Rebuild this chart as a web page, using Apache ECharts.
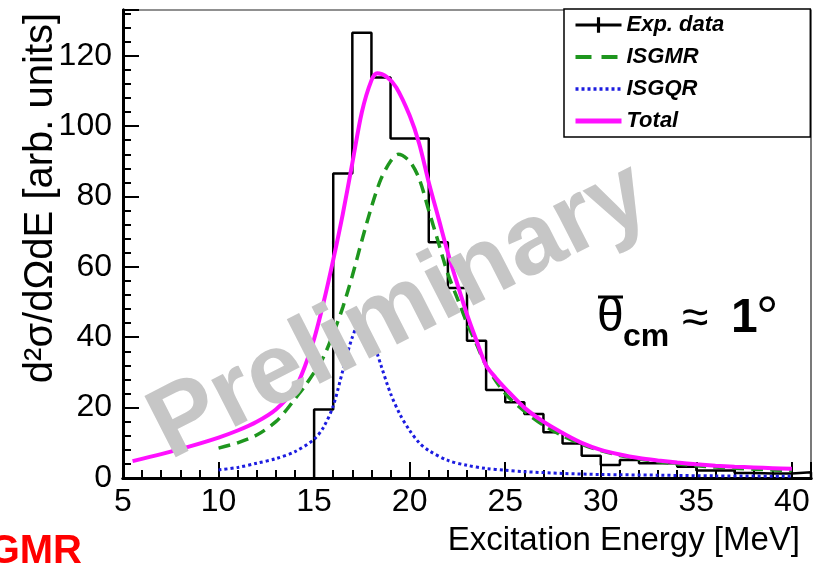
<!DOCTYPE html>
<html>
<head>
<meta charset="utf-8">
<script src="https://cdn.jsdelivr.net/npm/echarts@6/dist/echarts.min.js"></script>
<style>
  html, body { margin: 0; padding: 0; background: #fff; }
  #chart { width: 821px; height: 569px; }
</style>
</head>
<body>
<div id="chart"></div>
<script>
// measured spectrum, 1 MeV bins (lower edges)
const expBinLow = [15, 16, 17, 18, 19, 20, 21, 22, 23, 24, 25, 26, 27, 28, 29, 30, 31, 32, 33, 34, 35, 36, 37, 38, 39, 40];
const expCounts = [19.5, 86.5, 126.5, 113.8, 96.5, 96.5, 67, 54, 39, 25, 21.5, 18.2, 13, 9.8, 6.3, 3.7, 5.1, 4.2, 4.2, 3.2, 2.1, 2.1, 1.4, 1.3, 1.3, 1.6];
const binWidth = 1;

// fitted components
const isgmrE = [10, 11, 12, 13, 13.5, 14, 14.5, 15, 15.5, 16, 16.5, 17, 17.5, 18, 18.5, 19, 19.4, 20, 20.5, 21, 21.5, 22, 22.5, 23, 23.5, 24, 25, 26, 27, 28, 29, 30, 31, 32, 33, 34, 35, 36, 37, 38, 39, 40];
const isgmrY = [8.5, 10, 12.2, 16, 19, 22.5, 26, 30, 34.5, 41, 48.5, 57.5, 67.5, 77, 85, 90, 92, 90, 85, 76, 67, 58, 51, 44, 38, 32, 24, 19, 15, 12, 9.6, 7.8, 6.4, 5.4, 4.6, 4, 3.5, 3.1, 2.8, 2.5, 2.3, 2.1];

const isgqrE = [10, 11, 12, 13, 14, 15, 15.5, 16, 16.5, 17, 17.4, 17.8, 18.2, 18.5, 19, 19.5, 20, 20.5, 21, 22, 23, 24, 25, 26, 28, 30, 33, 36, 40];
const isgqrY = [2.3, 3, 4.2, 5.5, 7.5, 11, 14.5, 20.5, 30.5, 40, 44, 42, 37, 32, 24, 18, 13.5, 10, 7.8, 5, 3.6, 2.7, 2.2, 1.8, 1.3, 1, 0.8, 0.6, 0.5];

const totalE = [5.5, 7, 8.5, 10, 11, 12, 13, 14, 14.5, 15, 15.5, 16, 16.5, 17, 17.5, 18, 18.3, 18.8, 19.3, 20, 20.5, 21, 21.5, 22, 22.5, 23, 23.5, 24, 24.5, 25, 26, 27, 28, 29, 30, 31, 32, 33, 34, 35, 36, 37, 38, 39, 40];
const totalY = [4.8, 6.8, 9, 11.5, 13.5, 16, 19.5, 25.5, 31.5, 39.5, 50, 62, 75, 89.5, 104, 113, 115, 114, 111, 103, 95, 84, 74, 64, 55, 46.5, 39, 32, 28.5, 25.5, 20, 16, 12.8, 10, 8, 6.7, 5.7, 5, 4.4, 3.9, 3.5, 3.2, 3, 2.8, 2.6];

const xTickLabels = [5, 10, 15, 20, 25, 30, 35, 40];
const yTickLabels = [0, 20, 40, 60, 80, 100, 120];

const FONT = "'Liberation Sans', Arial, Helvetica, sans-serif";

const pairs = (xs, ys) => xs.map((x, i) => [x, ys[i]]);

// step outline of the histogram
const histPoints = [[expBinLow[0], 0]];
expBinLow.forEach((x, i) => histPoints.push([x, expCounts[i]]));
const lastEdge = expBinLow[expBinLow.length - 1] + binWidth;
histPoints.push([lastEdge, expCounts[expCounts.length - 1]]);
histPoints.push([lastEdge, 0]);

const chart = echarts.init(document.getElementById('chart'));

const axisBase = {
  type: 'value',
  splitLine: { show: false },
  axisLine: { show: true, onZero: false, lineStyle: { color: '#000', width: 3 } },
};

const option = {
  animation: false,
  backgroundColor: '#fff',
  grid: {
    left: 123, right: 10, top: 10, bottom: 91,
    show: true, borderColor: '#222', borderWidth: 1.2,
    outerBoundsMode: 'none',
  },
  xAxis: [
    {
      ...axisBase, min: 5, max: 41, interval: 5, position: 'bottom',
      axisTick: { show: true, inside: true, length: 16, lineStyle: { color: '#000', width: 2 } },
      axisLabel: {
        fontFamily: FONT, fontSize: 32, color: '#000', margin: 8,
        formatter: (v) => (xTickLabels.includes(v) ? String(v) : ''),
      },
    },
    {
      ...axisBase, min: 5, max: 41, interval: 1, position: 'bottom',
      axisTick: { show: true, inside: true, length: 8, lineStyle: { color: '#000', width: 2 } },
      axisLabel: { show: false },
    },
  ],
  yAxis: [
    {
      ...axisBase, min: 0, max: 133, interval: 20, position: 'left',
      axisTick: { show: true, inside: true, length: 16, lineStyle: { color: '#000', width: 2 } },
      axisLabel: {
        fontFamily: FONT, fontSize: 32, color: '#000', margin: 11,
        formatter: (v) => (yTickLabels.includes(v) ? String(v) : ''),
      },
    },
    {
      ...axisBase, min: 0, max: 133, interval: 4, position: 'left',
      axisTick: { show: true, inside: true, length: 8, lineStyle: { color: '#000', width: 2 } },
      axisLabel: { show: false },
    },
  ],
  legend: {
    orient: 'vertical',
    left: 564, top: 9,
    padding: [5, 86, 5, 9],
    itemGap: 10, itemWidth: 46, itemHeight: 22,
    borderColor: '#000', borderWidth: 1.5,
    backgroundColor: '#fff',
    itemStyle: { opacity: 0 },
    textStyle: { fontFamily: FONT, fontSize: 22, fontWeight: 'bold', fontStyle: 'italic', color: '#000' },
    data: [
      {
        name: 'Exp. data',
        icon: 'path://M0,6 H44 V9 H0 Z M20.5,0 H23.5 V15 H20.5 Z',
        itemStyle: { opacity: 1, color: '#000' },
      },
      { name: 'ISGMR', lineStyle: { width: 4, type: [16, 10] } },
      { name: 'ISGQR', lineStyle: { width: 3.5, type: [3, 3] } },
      { name: 'Total', lineStyle: { width: 5 } },
    ],
  },
  series: [
    {
      name: 'Exp. data', type: 'line', step: 'end', data: histPoints,
      symbol: 'none', z: 2,
      lineStyle: { color: '#000', width: 2.5 }, itemStyle: { color: '#000' },
    },
    {
      name: 'ISGMR', type: 'line', smooth: 0.3, data: pairs(isgmrE, isgmrY),
      symbol: 'none', z: 3,
      lineStyle: { color: '#1e961e', width: 3.5, type: [12, 7] }, itemStyle: { color: '#1e961e' },
    },
    {
      name: 'ISGQR', type: 'line', smooth: 0.3, data: pairs(isgqrE, isgqrY),
      symbol: 'none', z: 3,
      lineStyle: { color: '#1c1ce0', width: 3, type: [3, 3] }, itemStyle: { color: '#1c1ce0' },
    },
    {
      name: 'Total', type: 'line', smooth: 0.3, data: pairs(totalE, totalY),
      symbol: 'none', z: 4,
      lineStyle: { color: '#ff10ff', width: 4 }, itemStyle: { color: '#ff10ff' },
    },
  ],
  graphic: [
    {
      type: 'text', x: 41, y: 198, rotation: Math.PI / 2, z: 10,
      style: { text: 'd²σ/dΩdE [arb. units]', font: '40px ' + FONT, fill: '#000', align: 'center', verticalAlign: 'middle' },
    },
    {
      type: 'text', x: 800, y: 541, z: 10,
      style: { text: 'Excitation Energy [MeV]', font: '33px ' + FONT, fill: '#000', align: 'right', verticalAlign: 'middle' },
    },
    {
      type: 'text', x: 400, y: 312, rotation: 0.471, z: 20,
      style: { text: 'Preliminary', font: 'bold 100px ' + FONT, fill: '#c6c6c6', align: 'center', verticalAlign: 'middle' },
    },
    { type: 'text', x: 597, y: 318, z: 10, style: { text: 'θ', font: '48px ' + FONT, fill: '#000', align: 'left', verticalAlign: 'middle' } },
    { type: 'line', z: 10, shape: { x1: 598, y1: 297, x2: 623, y2: 297 }, style: { stroke: '#000', lineWidth: 3 } },
    { type: 'text', x: 623, y: 337, z: 10, style: { text: 'cm', font: 'bold 32px ' + FONT, fill: '#000', align: 'left', verticalAlign: 'middle' } },
    { type: 'text', x: 682, y: 320, z: 10, style: { text: '≈', font: '48px ' + FONT, fill: '#000', align: 'left', verticalAlign: 'middle' } },
    { type: 'text', x: 731, y: 319, z: 10, style: { text: '1', font: 'bold 48px ' + FONT, fill: '#000', align: 'left', verticalAlign: 'middle' } },
    { type: 'text', x: 756, y: 320, z: 10, style: { text: '°', font: '56px ' + FONT, fill: '#000', align: 'left', verticalAlign: 'middle' } },
    { type: 'text', x: 82, y: 552, z: 10, style: { text: 'GMR', font: 'bold 40px ' + FONT, fill: '#ff0000', align: 'right', verticalAlign: 'middle' } },
  ],
};

chart.setOption(option);
</script>
</body>
</html>
